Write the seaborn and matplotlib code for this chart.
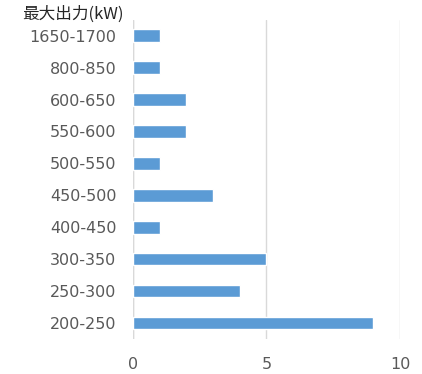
import matplotlib
matplotlib.use("Agg")
import matplotlib.pyplot as plt
import seaborn as sns
import pandas as pd

ranges = ["1650-1700", "800-850", "600-650", "550-600", "500-550",
          "450-500", "400-450", "300-350", "250-300", "200-250"]
counts = [1, 1, 2, 2, 1, 3, 1, 5, 4, 9]
x_ticks = [0, 5, 10]

df = pd.DataFrame({"range": ranges, "count": counts})

sns.set_theme(style="white")
plt.rcParams["font.family"] = ["DejaVu Sans", "Noto Sans CJK JP"]

fig = plt.figure(figsize=(4.22, 3.74), dpi=100)
ax = fig.add_axes([0.315, 0.094, 0.633, 0.853])

sns.barplot(data=df, x="count", y="range", order=ranges, color="#5B9BD5",
            saturation=1, width=0.4, ax=ax)

ax.set_xlim(0, 10)
ax.set_xticks(x_ticks)
ax.set_xlabel("")
ax.set_ylabel("")
ax.grid(axis="x", color="#d9d9d9", linewidth=1)
ax.set_axisbelow(True)
for s in ["top", "right", "bottom", "left"]:
    ax.spines[s].set_visible(False)
ax.axvline(0, color="#d9d9d9", linewidth=1, zorder=0)
ax.tick_params(axis="both", length=0, labelsize=11.5, labelcolor="#595959")
ax.tick_params(axis="x", pad=13)
ax.tick_params(axis="y", pad=12)

fig.text(0.052, 0.962, "最大出力(kW)", fontsize=12, color="#262626",
         ha="left", va="center", family=["Noto Sans CJK JP", "DejaVu Sans"])

fig.savefig("out.png", dpi=100)
